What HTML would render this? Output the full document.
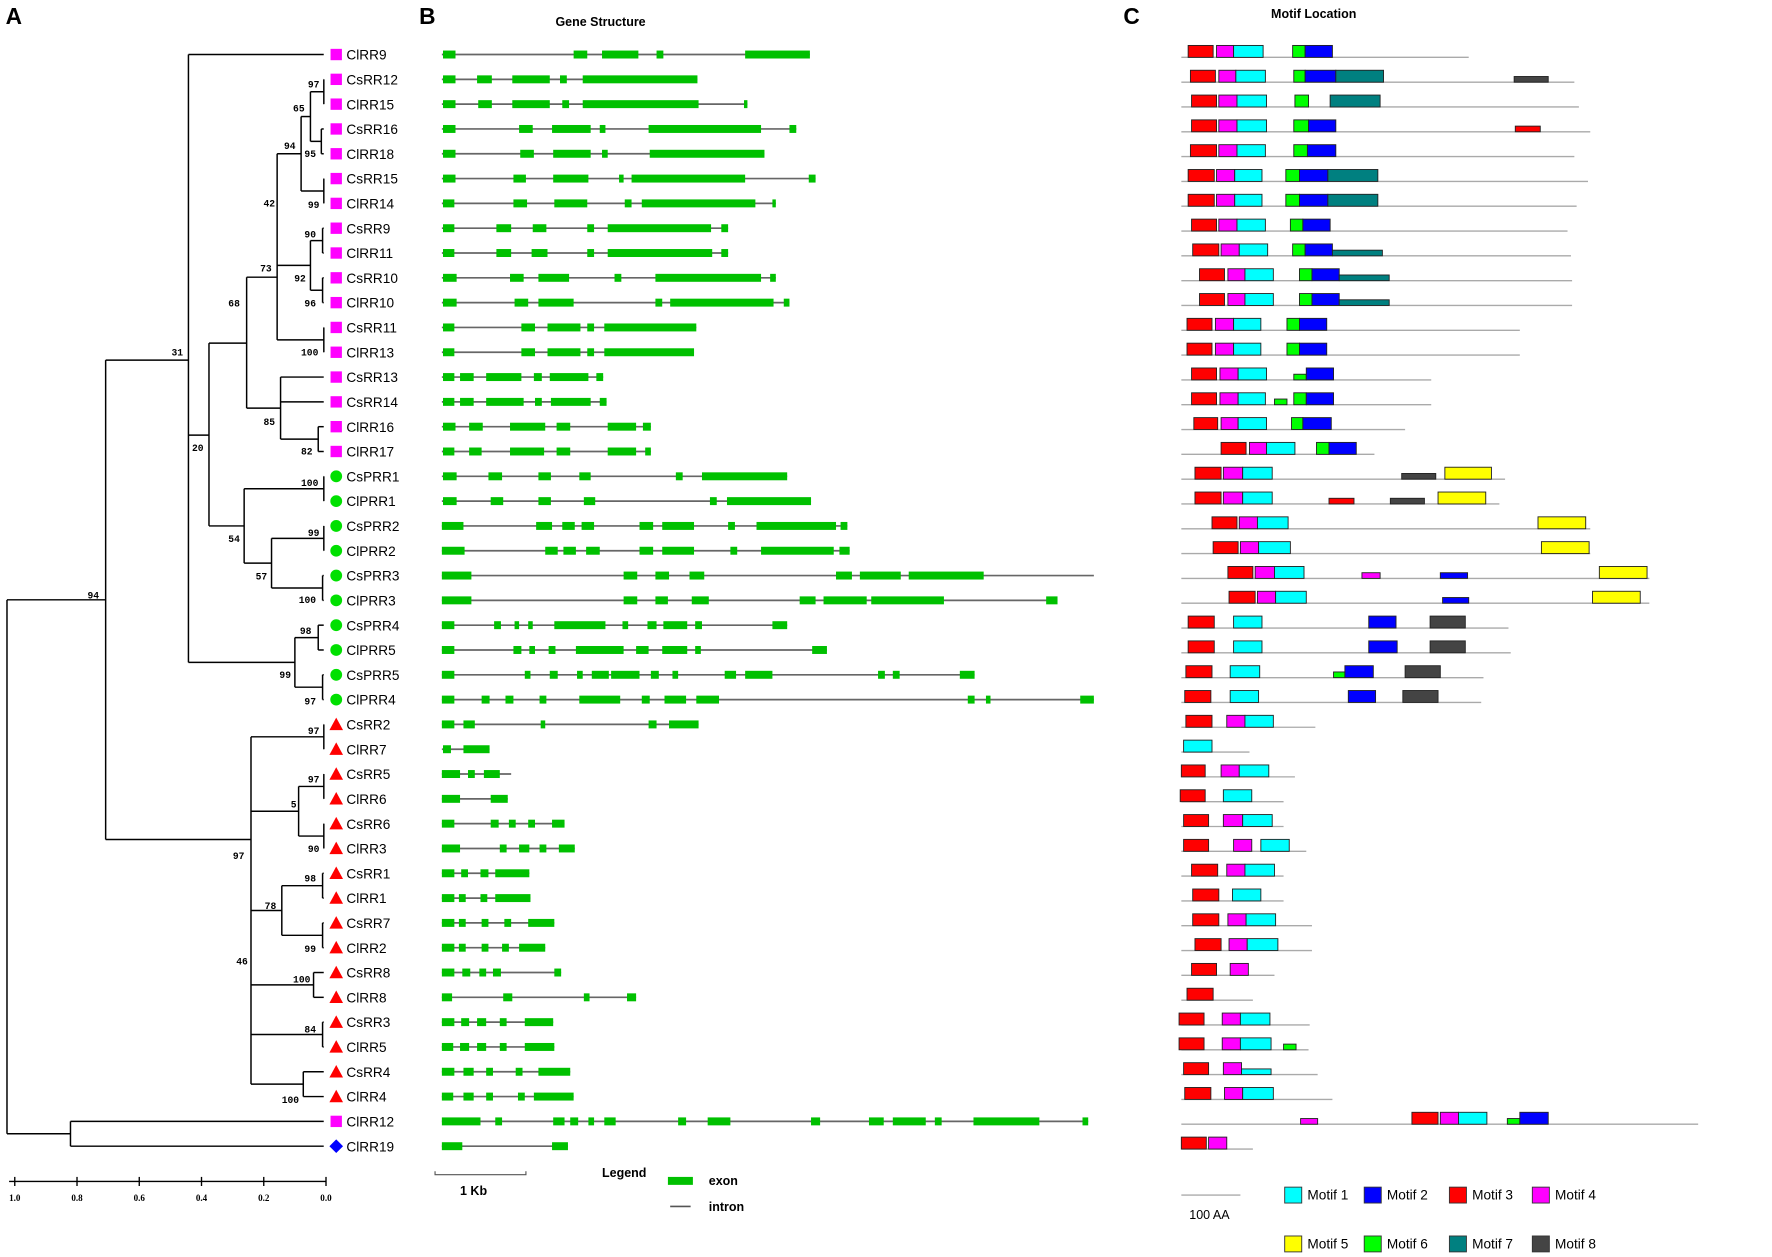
<!DOCTYPE html>
<html><head><meta charset="utf-8"><style>
html,body{margin:0;padding:0;background:#fff;}
svg{display:block;font-family:"Liberation Sans",sans-serif;}
</style></head><body>
<svg id="fig" width="1772" height="1257" viewBox="0 0 1560 1106.5" preserveAspectRatio="none" xmlns="http://www.w3.org/2000/svg">
<g id="static">
<text x="5" y="21" font-size="20" font-weight="bold">A</text>
<text x="369" y="21" font-size="20" font-weight="bold">B</text>
<text x="989" y="21" font-size="20" font-weight="bold">C</text>
<text x="489" y="23" font-size="11" font-weight="bold">Gene Structure</text>
<text x="1119" y="16" font-size="11" font-weight="bold">Motif Location</text>
<g>
<line x1="8" y1="1040" x2="287" y2="1040" stroke="#000" stroke-width="1.2"/>
</g>
<g>
<path d="M383 1031 L383 1034 L463 1034 L463 1031" fill="none" stroke="#555" stroke-width="1"/>
<text x="405" y="1052" font-size="11" font-weight="bold">1 Kb</text>
</g>
<g>
<text x="530" y="1036" font-size="11" font-weight="bold">Legend</text>
<rect x="588" y="1036" width="22" height="7" fill="#00c000"/>
<text x="624" y="1043" font-size="11" font-weight="bold">exon</text>
<line x1="590" y1="1062" x2="608" y2="1062" stroke="#555" stroke-width="1.5"/>
<text x="624" y="1066" font-size="11" font-weight="bold">intron</text>
</g>
<g>
<line x1="1040" y1="1052" x2="1092" y2="1052" stroke="#999" stroke-width="1"/>
<text x="1047" y="1073" font-size="11">100 AA</text>
</g>
</g>
<g id="tree"></g><g id="genes"></g><g id="motifs"></g><g id="mlegend"></g>
</svg>
<script>
const NS="http://www.w3.org/2000/svg";
const names=["ClRR9","CsRR12","ClRR15","CsRR16","ClRR18","CsRR15","ClRR14","CsRR9","ClRR11","CsRR10","ClRR10","CsRR11","ClRR13","CsRR13","CsRR14","ClRR16","ClRR17","CsPRR1","ClPRR1","CsPRR2","ClPRR2","CsPRR3","ClPRR3","CsPRR4","ClPRR5","CsPRR5","ClPRR4","CsRR2","ClRR7","CsRR5","ClRR6","CsRR6","ClRR3","CsRR1","ClRR1","CsRR7","ClRR2","CsRR8","ClRR8","CsRR3","ClRR5","CsRR4","ClRR4","ClRR12","ClRR19"];
const groups=["s","s","s","s","s","s","s","s","s","s","s","s","s","s","s","s","s","c","c","c","c","c","c","c","c","c","c","t","t","t","t","t","t","t","t","t","t","t","t","t","t","t","t","s","d"];
const scaleTicks=["1.0","0.8","0.6","0.4","0.2","0.0"];
const scaleVals=[1.0,0.8,0.6,0.4,0.2,0.0];
// tree nodes: [id, distanceFromTip, children, yOverride]
const treeNodes=[
["nA",0.007,[1,2]],["nB",0.015,[3,4]],["nC",0.007,[5,6]],["n65",0.05,["nA","nB"]],["n94",0.08,["n65","nC"]],
["nD",0.011,[7,8]],["nE",0.011,[9,10]],["n92",0.05,["nD","nE"]],["nF",0.007,[11,12]],
["n42",0.157,["n94","n92","nF"],244],["nG",0.025,[15,16]],["n85",0.146,[13,14,"nG"]],["n73",0.255,["n42","n85"],302],
["nH",0.007,[17,18]],["nI",0.007,[19,20]],["nJ",0.011,[21,22]],["n57",0.175,["nI","nJ"]],["n54",0.263,["nH","n57"]],
["n68",0.376,["n73","n54"],383],["nK",0.025,[23,24]],["nL",0.011,[25,26]],["n99",0.1,["nK","nL"]],["n31",0.442,[0,"n68","n99"],317],
["nM",0.007,[27,28]],["nN",0.007,[29,30]],["nO",0.007,[31,32]],["n5",0.088,["nN","nO"]],["nP",0.011,[33,34]],["nQ",0.011,[35,36]],
["n78",0.142,["nP","nQ"]],["nR",0.04,[37,38]],["nS",0.011,[39,40]],["nT",0.073,[41,42]],
["n97",0.241,["nM","n5","n78","nR","nS","nT"],739],["n94r",0.708,["n31","n97"],528],["nU",0.821,[43,44]],["root",1.025,["n94r","nU"]]];
const bootVals=["97","65","94","95","42","99","90","73","92","96","68","31","100","85","82","20","100","99","54","57","100","98","99","97","94","97","97","5","90","97","98","78","99","46","100","84","100"];
const bootPos=[[271,77],[258,98],[250,131],[268,138],[232,182],[271,183],[268,209],[229,239],[259,248],[268,270],[201,270],[151,313],[265,313],[232,374],[265,400],[169,397],[265,428],[271,472],[201,477],[225,510],[263,531],[264,558],[246,597],[268,620],[77,527],[271,646],[271,689],[256,711],[271,750],[205,756],[268,776],[233,800],[268,838],[208,849],[258,865],[268,909],[248,971]];
// gene structures: exon [start,end] in gene units (80 units = 1 kb)
const geneEnd=[324,225,269,312,284,329,294,252,252,294,306,224,222,142,145,184,184,304,325,357,359,574,542,304,339,469,574,226,42,61,58,108,117,77,78,99,91,105,171,98,99,113,116,569,111];
const exons=[
[[1,12],[116,128],[141,173],[189,195],[267,324]],
[[1,12],[31,44],[62,95],[104,110],[124,225]],
[[1,12],[32,44],[62,95],[106,112],[124,226],[266,269]],
[[1,12],[68,80],[97,131],[139,144],[182,281],[306,312]],
[[1,12],[69,81],[98,131],[141,146],[183,284]],
[[1,12],[63,74],[98,129],[156,160],[167,267],[323,329]],
[[1,11],[63,75],[99,128],[161,167],[176,276],[291,294]],
[[1,11],[48,61],[80,92],[128,134],[146,237],[246,252]],
[[1,11],[48,61],[79,93],[128,134],[146,238],[246,252]],
[[1,13],[60,72],[85,112],[152,158],[188,281],[289,294]],
[[1,13],[64,76],[85,116],[188,194],[201,292],[301,306]],
[[1,11],[70,82],[93,122],[128,134],[143,224]],
[[1,11],[70,82],[93,122],[128,134],[143,222]],
[[1,11],[16,28],[39,70],[81,88],[95,129],[136,142]],
[[1,11],[16,28],[39,72],[82,88],[96,131],[139,145]],
[[1,12],[24,36],[60,91],[101,113],[146,171],[177,184]],
[[1,11],[24,35],[60,90],[101,113],[146,171],[179,184]],
[[1,13],[41,53],[85,96],[121,131],[206,212],[229,304]],
[[1,13],[43,54],[85,96],[125,135],[236,242],[251,325]],
[[0,19],[83,97],[106,117],[123,134],[174,186],[194,222],[252,258],[277,347],[351,357]],
[[0,20],[91,102],[107,118],[127,139],[174,186],[194,222],[254,260],[281,345],[350,359]],
[[0,26],[160,172],[188,200],[218,231],[347,361],[368,404],[411,477]],
[[0,26],[160,172],[188,199],[220,235],[315,329],[336,374],[378,442],[532,542]],
[[0,11],[46,52],[64,68],[76,80],[99,144],[159,164],[181,189],[195,216],[223,229],[291,304]],
[[0,11],[63,70],[77,82],[94,100],[118,160],[171,182],[194,216],[223,228],[326,339]],
[[0,11],[73,78],[95,102],[119,124],[132,147],[149,174],[184,191],[203,208],[249,259],[267,291],[384,390],[397,403],[456,469]],
[[0,11],[35,42],[56,63],[86,92],[121,157],[176,183],[196,215],[224,244],[463,469],[479,483],[562,574]],
[[0,11],[19,29],[87,91],[182,189],[200,226]],
[[1,8],[19,42]],
[[0,16],[23,29],[37,51]],
[[0,16],[43,58]],
[[0,11],[43,50],[59,65],[76,82],[97,108]],
[[0,16],[51,57],[68,77],[86,92],[103,117]],
[[0,11],[17,23],[34,41],[47,77]],
[[0,11],[15,21],[34,40],[47,78]],
[[0,11],[15,21],[35,41],[55,61],[76,99]],
[[0,11],[15,21],[35,41],[53,59],[68,91]],
[[0,11],[18,25],[33,39],[45,52],[99,105]],
[[0,9],[54,62],[125,130],[163,171]],
[[0,11],[17,24],[31,39],[51,57],[73,98]],
[[0,10],[16,24],[31,39],[51,57],[73,99]],
[[0,11],[19,28],[39,45],[65,71],[85,113]],
[[0,10],[19,28],[39,45],[67,73],[81,116]],
[[0,34],[47,53],[98,108],[113,120],[129,134],[143,153],[208,215],[234,254],[325,333],[376,389],[397,426],[434,440],[468,526],[564,569]],
[[0,18],[97,111]]];
// motifs: protein length and [motif, startAA, endAA, thin] (100 AA = 52 units)
const protLen=[253,346,350,360,346,358,348,340,343,344,344,298,298,220,220,197,170,285,280,360,360,412,412,288,290,266,264,118,60,100,90,90,110,90,90,115,115,82,63,113,112,120,133,455,63];
const motifs=[
[[3,6,28],[4,31,46],[1,46,72],[6,98,109],[2,109,133]],
[[3,8,30],[4,33,48],[1,48,74],[6,99,109],[2,109,136],[7,136,178],[8,293,323,1]],
[[3,9,31],[4,33,49],[1,49,75],[6,100,112],[7,131,175]],
[[3,9,31],[4,33,49],[1,49,75],[6,99,112],[2,112,136],[3,294,316,1]],
[[3,8,31],[4,33,49],[1,49,74],[6,99,111],[2,111,136]],
[[3,6,29],[4,31,47],[1,47,71],[6,92,104],[2,104,129],[7,129,173]],
[[3,6,29],[4,31,47],[1,47,71],[6,92,104],[2,104,129],[7,129,173]],
[[3,9,31],[4,33,49],[1,49,74],[6,96,107],[2,107,131]],
[[3,10,33],[4,35,51],[1,51,76],[6,98,109],[2,109,133],[7,133,177,1]],
[[3,16,38],[4,41,56],[1,56,81],[6,104,115],[2,115,139],[7,139,183,1]],
[[3,16,38],[4,41,56],[1,56,81],[6,104,115],[2,115,139],[7,139,183,1]],
[[3,5,27],[4,30,46],[1,46,70],[6,93,104],[2,104,128]],
[[3,5,27],[4,30,46],[1,46,70],[6,93,104],[2,104,128]],
[[3,9,31],[4,34,50],[1,50,75],[6,99,110,1],[2,110,134]],
[[3,9,31],[4,34,50],[1,50,74],[6,82,93,1],[6,99,110],[2,110,134]],
[[3,11,32],[4,35,50],[1,50,75],[6,97,107],[2,107,132]],
[[3,35,57],[4,60,75],[1,75,100],[6,119,130],[2,130,154]],
[[3,12,35],[4,37,54],[1,54,80],[8,194,224,1],[5,232,273]],
[[3,12,35],[4,37,54],[1,54,80],[3,130,152,1],[8,184,214,1],[5,226,268]],
[[3,27,49],[4,51,67],[1,67,94],[5,314,356]],
[[3,28,50],[4,52,68],[1,68,96],[5,317,359]],
[[3,41,63],[4,65,82],[1,82,108],[4,159,175,1],[2,228,252,1],[5,368,410]],
[[3,42,65],[4,67,83],[1,83,110],[2,230,253,1],[5,362,404]],
[[3,6,29],[1,46,71],[2,165,189],[8,219,250]],
[[3,6,29],[1,46,71],[2,165,190],[8,219,250]],
[[3,4,27],[1,43,69],[6,134,144,1],[2,144,169],[8,197,228]],
[[3,3,26],[1,43,68],[2,147,171],[8,195,226]],
[[3,4,27],[4,40,56],[1,56,81]],
[[1,2,27]],
[[3,0,21],[4,35,51],[1,51,77]],
[[3,-1,21],[1,37,62]],
[[3,2,24],[4,37,54],[1,54,80]],
[[3,2,24],[4,46,62],[1,70,95]],
[[3,9,32],[4,40,56],[1,56,82]],
[[3,10,33],[1,45,70]],
[[3,10,33],[4,41,57],[1,57,83]],
[[3,12,35],[4,42,58],[1,58,85]],
[[3,9,31],[4,43,59]],
[[3,5,28]],
[[3,-2,20],[4,36,52],[1,52,78]],
[[3,-2,20],[4,36,52],[1,52,79],[6,90,101,1]],
[[3,2,24],[4,37,53],[1,53,79,1]],
[[3,3,26],[4,38,54],[1,54,81]],
[[4,105,120,1],[3,203,226],[4,228,244],[1,244,269],[6,287,298,1],[2,298,323]],
[[3,0,22],[4,24,40]]];
const motifColors=["","#00ffff","#0000ff","#ff0000","#ff00ff","#ffff00","#00ff00","#008080","#444444"];
const legendLabels=["Motif 1","Motif 2","Motif 3","Motif 4","Motif 5","Motif 6","Motif 7","Motif 8"];

const rowY=i=>48+i*21.84;
const treeX=h=>287-h*274;
const geneX=u=>389+u;
const motifX=a=>1040+a;
function mk(tag,attrs,parent){const e=document.createElementNS(NS,tag);for(const k in attrs)e.setAttribute(k,attrs[k]);parent.appendChild(e);return e;}

// tree
const tree=document.getElementById('tree');
const nodeMap={};
treeNodes.forEach(n=>nodeMap[n[0]]=n);
const cache={};
function nodeY(c){
  if(typeof c==='number')return rowY(c);
  if(cache[c]!==undefined)return cache[c];
  const n=nodeMap[c];const ys=n[2].map(nodeY);
  const y=n[3]!==undefined?n[3]:(ys[0]+ys[ys.length-1])/2;
  cache[c]=y;return y;
}
function childX(c){return typeof c==='number'?285:treeX(nodeMap[c][1]);}
treeNodes.forEach(n=>{
  const x=treeX(n[1]);const ys=n[2].map(nodeY);
  const v=mk('line',{x1:x,x2:x,y1:Math.min(...ys),y2:Math.max(...ys),stroke:'#000','stroke-width':1.3},tree);
  
  
  n[2].forEach((c,k)=>{
    const h=mk('line',{x1:x,x2:childX(c),y1:ys[k],y2:ys[k],stroke:'#000','stroke-width':1.3},tree);
    
    
  });
});
bootVals.forEach((b,i)=>{
  const t=mk('text',{x:bootPos[i][0],y:bootPos[i][1],'font-size':8.5,'font-weight':'bold','font-family':'Liberation Mono, monospace'},tree);
  t.textContent=b;
  
  
});
scaleVals.forEach((v,i)=>{
  const x=treeX(v);
  const tk=mk('line',{x1:x,x2:x,y1:1036,y2:1044,stroke:'#000','stroke-width':1.2},tree);
  
  
  const t=mk('text',{x:x,y:1057,'font-size':8,'font-weight':'bold','text-anchor':'middle','font-family':'Liberation Serif, serif'},tree);
  t.textContent=scaleTicks[i];
  
  
});
names.forEach((nm,i)=>{
  const y=rowY(i);const g=groups[i];let s;
  if(g==='s')s=mk('rect',{x:291,y:y-5,width:10,height:10,fill:'#ff00ff'},tree);
  else if(g==='c')s=mk('circle',{cx:296,cy:y,r:5.2,fill:'#00e000'},tree);
  else if(g==='t')s=mk('polygon',{points:`${296},${y-6} ${302},${y+5} ${290},${y+5}`,fill:'#ff0000'},tree);
  else s=mk('polygon',{points:`${296},${y-6} ${302},${y} ${296},${y+6} ${290},${y}`,fill:'#0000ff'},tree);
  
  
  const t=mk('text',{x:305,y:y+4.5,'font-size':12},tree);
  t.textContent=nm;
  
  
});

// genes
const genes=document.getElementById('genes');
exons.forEach((ex,i)=>{
  const y=rowY(i);
  const l=mk('line',{x1:geneX(0),x2:geneX(geneEnd[i]),y1:y,y2:y,stroke:'#666','stroke-width':1.5},genes);
  
  
  ex.forEach(e=>{
    const r=mk('rect',{x:geneX(e[0]),y:y-3.5,width:e[1]-e[0],height:7,fill:'#00c000'},genes);
    
    
  });
});

// motifs
const mg=document.getElementById('motifs');
motifs.forEach((ms,i)=>{
  const y=rowY(i);
  const l=mk('line',{x1:motifX(0),x2:motifX(protLen[i]),y1:y+2.5,y2:y+2.5,stroke:'#aaa','stroke-width':1.2},mg);
  
  
  ms.forEach(m=>{
    const thin=m[3];
    const r=mk('rect',{x:motifX(m[1]),y:thin?y-2.5:y-8,width:m[2]-m[1],height:thin?5:10.5,fill:motifColors[m[0]],stroke:'#222','stroke-width':0.8},mg);
    
    
  });
});
const lg=document.getElementById('mlegend');
const lx=[1131,1201,1276,1349],ly=[1045,1088];
legendLabels.forEach((lab,i)=>{
  const x=lx[i%4],y=ly[Math.floor(i/4)];
  const r=mk('rect',{x:x,y:y,width:15,height:14,fill:motifColors[i+1],stroke:'#333','stroke-width':0.8},lg);
  
  
  const t=mk('text',{x:x+20,y:y+11,'font-size':12},lg);
  t.textContent=lab;
  
  
});
</script>
</body></html>
